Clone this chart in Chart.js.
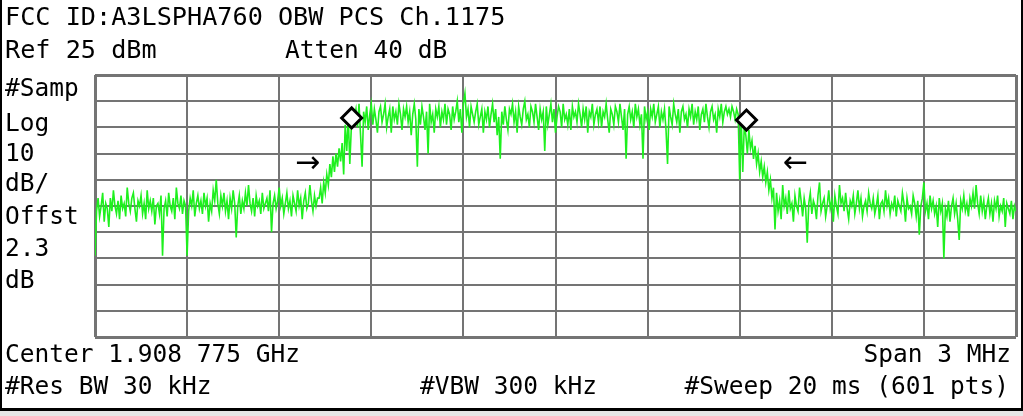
<!DOCTYPE html>
<html>
<head>
<meta charset="utf-8">
<script src="https://cdn.jsdelivr.net/npm/chart.js@4.4.1/dist/chart.umd.min.js"></script>
<style>
  html, body { margin: 0; padding: 0; background: #e6e6e6; }
  #screen {
    position: absolute; left: 0; top: 0; width: 1019px; height: 408px;
    background: #fff; border-left: 2px solid #000; border-right: 2px solid #000;
    border-bottom: 3px solid #000; overflow: hidden;
  }
  #myChart { position: absolute; left: -2px; top: 0; }
  .lbl {
    position: absolute; font-family: "DejaVu Sans Mono", monospace; font-size: 24.5px;
    line-height: 28px; color: #000; white-space: pre;
  }
  .arrow { font-family: "DejaVu Sans", sans-serif; font-size: 30px; line-height: 30px; }
</style>
</head>
<body>
<div id="screen">
  <canvas id="myChart" width="1029" height="416"></canvas>
  <div class="lbl" style="left:3px; top:3px; font-size:25.2px;">FCC ID:A3LSPHA760 OBW PCS Ch.1175</div>
  <div class="lbl" style="left:3px; top:36px; font-size:25.2px;">Ref 25 dBm</div>
  <div class="lbl" style="left:283px; top:36px;">Atten 40 dB</div>
  <div class="lbl" style="left:3px; top:74px;">#Samp</div>
  <div class="lbl" style="left:3px; top:109px;">Log</div>
  <div class="lbl" style="left:3px; top:139px;">10</div>
  <div class="lbl" style="left:3px; top:169px;">dB/</div>
  <div class="lbl" style="left:3px; top:202px;">Offst</div>
  <div class="lbl" style="left:3px; top:234px;">2.3</div>
  <div class="lbl" style="left:3px; top:266px;">dB</div>
  <div class="lbl arrow" style="left:293px; top:147px;">→</div>
  <div class="lbl arrow" style="left:781px; top:147px;">←</div>
  <div class="lbl" style="left:3px; top:340px;">Center 1.908 775 GHz</div>
  <div class="lbl" style="right:10px; top:340px;">Span 3 MHz</div>
  <div class="lbl" style="left:3px; top:372px;">#Res BW 30 kHz</div>
  <div class="lbl" style="left:418px; top:372px;">#VBW 300 kHz</div>
  <div class="lbl" style="right:12px; top:372px;">#Sweep 20 ms (601 pts)</div>
</div>
<script>
var ctx = document.getElementById('myChart');

// analyzer settings
const centerMHz = 1908.775;
const spanMHz = 3;
const refLevel = 25;
const dbPerDiv = 10;
const divisions = 10;

// sweep trace, dBm, one value per sweep point
const traceDbm = [
  -44,-27,-22,-29,-25,-20,-31,-24,-26,-33,-22,-27,-19,-25,-28,-23,-30,-21,-26,-24,
  -29,-18,-24,-27,-22,-20,-26,-31,-23,-25,-21,-28,-24,-30,-19,-26,-23,-27,-22,-32,
  -25,-24,-28,-21,-44,-26,-23,-29,-20,-25,-27,-22,-30,-18,-24,-26,-21,-28,-23,-25,
  -44,-27,-22,-25,-19,-29,-24,-21,-26,-23,-28,-20,-25,-22,-31,-24,-27,-19,-23,-15,
  -24,-28,-21,-25,-20,-27,-23,-30,-22,-26,-19,-24,-37,-25,-21,-28,-23,-26,-20,-25,
  -17,-24,-27,-22,-29,-21,-25,-23,-28,-20,-26,-24,-22,-27,-19,-35,-24,-21,-26,-23,
  -18,-25,-22,-28,-24,-20,-26,-23,-29,-21,-24,-27,-19,-25,-22,-30,-23,-20,-26,-24,
  -17,-23,-27,-21,-25,-22,
  -22,-18,-24,-16,-20,-13,-17,-9,-14,-6,-12,-5,-10,-3,-8,-1,-13,6,-4,9,-9,5,10,
  9,12,5,14,2,-10,11,7,13,4,10,14,6,12,8,3,11,13,7,10,
  14,5,9,12,3,13,8,11,6,14,10,4,12,9,13,7,11,2,10,14,
  8,-10,12,6,13,9,4,11,-5,14,7,10,3,12,9,13,5,11,8,14,
  6,12,10,4,13,8,11,15,7,12,3,14,18,9,12,5,13,10,7,11,
  14,6,9,12,3,11,8,13,5,10,14,7,12,2,9,-7,11,6,13,8,
  4,12,10,14,7,11,3,13,9,6,12,15,8,10,5,13,11,7,14,9,
  4,12,8,11,-4,13,6,10,14,7,12,3,9,13,11,5,14,8,10,6,
  12,4,13,9,11,7,14,10,5,12,8,13,3,11,9,14,6,10,12,7,
  13,5,11,9,14,8,3,12,10,6,13,11,7,14,9,4,12,-7,10,13,
  8,11,5,14,9,12,6,10,-7,13,8,11,4,12,9,14,7,10,13,5,
  11,8,12,4,-9,13,9,6,14,10,7,12,3,11,13,8,10,5,12,9,
  14,6,11,8,13,4,10,12,7,14,9,5,11,13,8,10,3,12,9,14,
  7,11,13,10,12,9,13,11,8,12,10,
  -15,8,-12,6,2,-5,4,-3,0,-7,-2,-9,-5,-12,-8,-14,-10,-16,-12,-19,-15,-22,-18,
  -34,-20,-27,-23,-30,-17,-25,-22,-28,-19,-26,-24,-31,-21,-25,-27,-18,-23,-29,-22,
  -26,-39,-24,-20,-28,-23,-25,-30,-21,-16,-27,-24,-22,-29,-25,-19,-26,-23,-31,-21,
  -25,-28,-17,-24,-22,-27,-20,-26,-30,-23,-25,-21,-28,-24,-19,-26,-22,-29,-25,-23,
  -27,-20,-24,-26,-22,-28,-25,-21,-30,-24,-23,-27,-19,-25,-22,-28,-24,-26,-21,-29,
  -23,-25,-27,-20,-24,-31,-22,-26,-25,-28,-21,-24,-29,-23,-36,-25,-22,-16,-27,-24,
  -30,-21,-26,-23,-28,-25,-33,-22,-27,-24,-45,-26,-29,-23,-31,-25,-22,-28,-24,-30,
  -38,-23,-26,-21,-27,-24,-29,-22,-25,-20,-26,-17,-24,-28,-21,-27,-23,-30,-25,-22,
  -28,-24,-31,-23,-26,-21,-29,-25,-27,-22,-33,-24,-26,-28,-23,-30,-25,-27
];

// occupied bandwidth markers
const markerMHz = [1908.111, 1909.397];
const markerDbm = [8.6, 7.8];

const startMHz = centerMHz - spanMHz / 2;
const stopMHz = centerMHz + spanMHz / 2;
const bottomLevel = refLevel - dbPerDiv * divisions;

let tracePoints = traceDbm.map((v, i) => ({
    x: startMHz + i * spanMHz / (traceDbm.length - 1),
    y: v
}));
let markerPoints = markerMHz.map((f, i) => ({ x: f, y: markerDbm[i] }));

function frameWidth(c) {
    return (c.index == 0 || c.index == divisions) ? 3 : 2;
}

var myChart = new Chart(ctx, {
    type: 'line',
    data: {
        datasets: [{
            label: 'markers',
            type: 'scatter',
            data: markerPoints,
            pointStyle: 'rectRot',
            pointRadius: 10,
            pointBorderWidth: 3,
            pointBorderColor: '#000',
            pointBackgroundColor: '#fff',
            order: 0
        }, {
            label: 'trace',
            data: tracePoints,
            borderColor: 'rgb(30, 240, 30)',
            borderWidth: 1.6,
            pointRadius: 0,
            tension: 0,
            order: 1
        }]
    },
    options: {
        responsive: false,
        animation: false,
        layout: { padding: { left: 95, top: 75, right: 5, bottom: 79 } },
        plugins: { legend: { display: false }, tooltip: { enabled: false } },
        scales: {
            x: {
                type: 'linear',
                min: startMHz,
                max: stopMHz,
                afterBuildTicks: function (scale) {
                    scale.ticks = [];
                    for (let k = 0; k <= divisions; k++) {
                        scale.ticks.push({ value: startMHz + k * spanMHz / divisions });
                    }
                },
                ticks: { display: false },
                grid: { color: '#747474', lineWidth: frameWidth, drawTicks: false },
                border: { display: false }
            },
            y: {
                min: bottomLevel,
                max: refLevel,
                afterBuildTicks: function (scale) {
                    scale.ticks = [];
                    for (let k = 0; k <= divisions; k++) {
                        scale.ticks.push({ value: bottomLevel + k * dbPerDiv });
                    }
                },
                ticks: { display: false },
                grid: { color: '#747474', lineWidth: frameWidth, drawTicks: false },
                border: { display: false }
            }
        }
    }
});
</script>
</body>
</html>
